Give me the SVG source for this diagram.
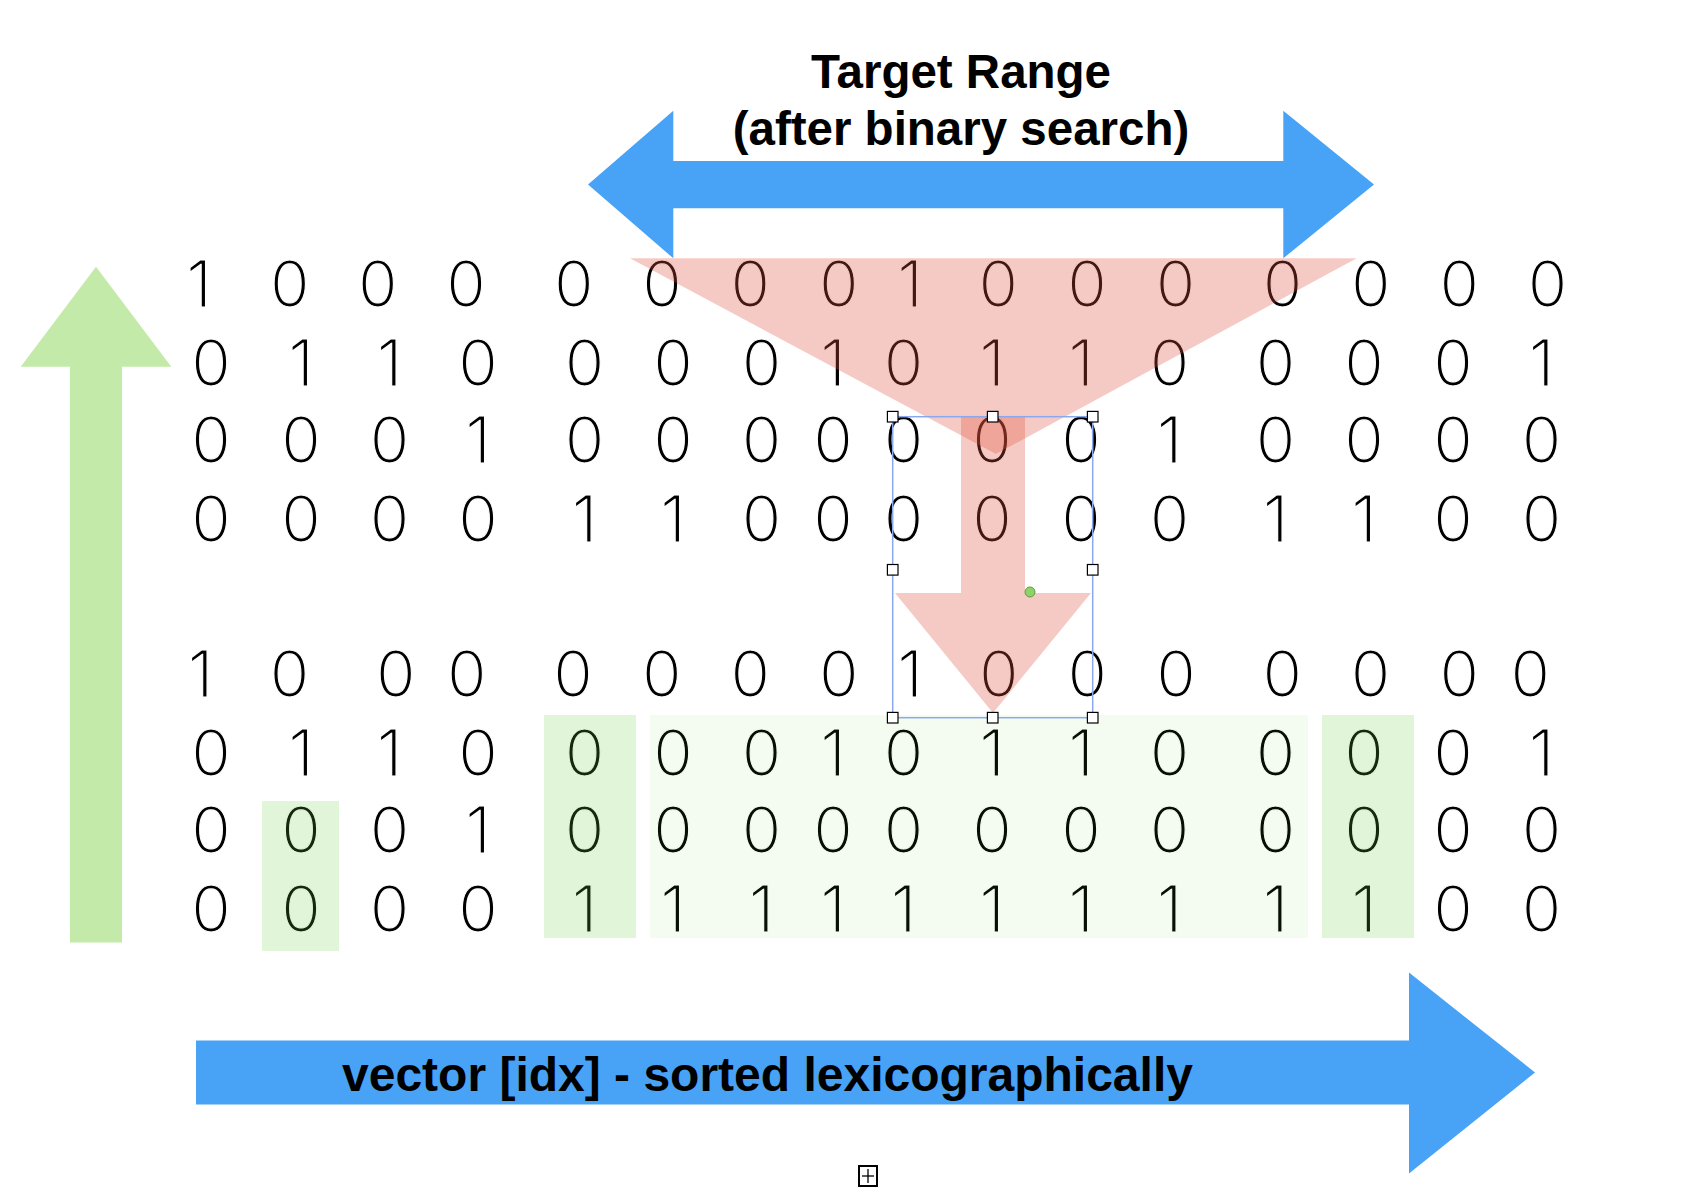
<svg xmlns="http://www.w3.org/2000/svg" width="1700" height="1192" viewBox="0 0 1700 1192">
  <style>
    .title { font-family: "Liberation Sans", Arial, sans-serif; font-weight: bold; font-size: 47.5px; fill: #000; text-anchor: middle; }
    .label { font-family: "Liberation Sans", Arial, sans-serif; font-weight: bold; font-size: 48px; fill: #000; }
    .bits { font-family: Inter, "Open Sans", "DejaVu Sans", sans-serif; font-weight: 300; font-size: 64px; fill: #000; text-anchor: middle; stroke: #fff; stroke-width: 1.1px; paint-order: fill; }
    .blue { fill: #48a3f7; }
    .green { fill: #c4eaa9; }
    .red { fill: #e0503c; fill-opacity: 0.3; }
    .hl { fill: #6acd3d; fill-opacity: 0.2; }
    .hl-light { fill: #6acd3d; fill-opacity: 0.07; }
    .handle { fill: #fff; stroke: #000; stroke-width: 1.2; }
  </style>

  <rect width="1700" height="1192" fill="#fff"/>

  <g id="title">
    <text class="title" x="961" y="88">Target Range</text>
    <text class="title" x="961" y="145">(after binary search)</text>
  </g>

  <g id="connectors">
    <polygon id="range-arrow" class="blue" points="588,184.5 673.3,110.7 673.3,161 1283.3,161 1283.3,110.7 1374,184.5 1283.3,258.3 1283.3,208.3 673.3,208.3 673.3,258.3"/>
    <polygon id="up-arrow" class="green" points="96,266.7 171.3,366.7 122,366.7 122,942.6 70,942.6 70,366.7 20.7,366.7"/>
    <polygon id="sort-arrow" class="blue" points="196,1040.5 1409,1040.5 1409,972.6 1535,1072.5 1409,1173.5 1409,1104.5 196,1104.5"/>
  </g>

  <g id="matrix-before">
    <text class="bits" x="199 289.7 377.8 466 573.7 662 750.3 838.7 910 998.3 1087 1175.5 1282.5 1370.8 1459.2 1547.5" y="306.7">1000000010000000</text>
    <text class="bits" x="211 301 389.5 478 584.5 673 761.5 833 903.5 992 1081 1169.5 1275.5 1364 1453 1541.5" y="385.7">0110000101100001</text>
    <text class="bits" x="211 301 389.5 478 584.5 673 761.5 833 903.5 992 1081 1169.5 1275.5 1364 1453 1541.5" y="463.3">0001000000010000</text>
    <text class="bits" x="211 301 389.5 478 584.5 673 761.5 833 903.5 992 1081 1169.5 1275.5 1364 1453 1541.5" y="541.7">0000110000001100</text>
  </g>

  <g id="matrix-after">
    <text class="bits" x="200.7 289.5 395.8 466.7 573 661.7 750.3 838.8 910 998.8 1087.2 1176 1282.2 1370.5 1459.2 1530.3" y="697.3">1000000010000000</text>
    <text class="bits" x="211 301 389.5 478 584.5 673 761.5 833 903.5 992 1081 1169.5 1275.5 1364 1453 1541.5" y="776">0110000101100001</text>
    <text class="bits" x="211 301 389.5 478 584.5 673 761.5 833 903.5 992 1081 1169.5 1275.5 1364 1453 1541.5" y="853.3">0001000000000000</text>
    <text class="bits" x="211 301 389.5 478 584.5 673 761.5 833 903.5 992 1081 1169.5 1275.5 1364 1453 1541.5" y="931.7">0000111111111100</text>
  </g>

  <g id="highlights">
    <rect class="hl" x="262" y="801" width="77" height="150"/>
    <rect class="hl" x="544" y="715" width="92" height="223"/>
    <rect class="hl-light" x="650" y="715" width="658" height="223"/>
    <rect class="hl" x="1322" y="715" width="92" height="223"/>
  </g>

  <g id="target-range-funnel">
    <polygon class="red" points="630,258.3 1356.7,258.3 996,454"/>
  </g>

  <g id="search-arrow">
    <polygon class="red" points="961,416.7 1025,416.7 1025,593 1091,593 993,713 895,593 961,593"/>
  </g>

  <g id="selection">
    <rect x="892.7" y="416.7" width="200" height="301" fill="none" stroke="#8aa8f0" stroke-width="1.5"/>
    <rect class="handle" x="887.4" y="411.4" width="10.6" height="10.6"/>
    <rect class="handle" x="987.4" y="411.4" width="10.6" height="10.6"/>
    <rect class="handle" x="1087.4" y="411.4" width="10.6" height="10.6"/>
    <rect class="handle" x="887.4" y="564.5" width="10.6" height="10.6"/>
    <rect class="handle" x="1087.4" y="564.5" width="10.6" height="10.6"/>
    <rect class="handle" x="887.4" y="712.4" width="10.6" height="10.6"/>
    <rect class="handle" x="987.4" y="712.4" width="10.6" height="10.6"/>
    <rect class="handle" x="1087.4" y="712.4" width="10.6" height="10.6"/>
    <circle cx="1030" cy="592" r="5" fill="#8fd16a" stroke="#5e9e3e" stroke-width="1"/>
  </g>

  <g id="sort-label">
    <text class="label" x="342" y="1090.7">vector [idx] - sorted lexicographically</text>
  </g>

  <g id="expand-icon">
    <rect x="859" y="1166" width="18" height="20" fill="#fff" stroke="#000" stroke-width="2"/>
    <line x1="862" y1="1176" x2="874" y2="1176" stroke="#000" stroke-width="1.3"/>
    <line x1="868" y1="1169" x2="868" y2="1183" stroke="#000" stroke-width="1.3"/>
  </g>
</svg>
